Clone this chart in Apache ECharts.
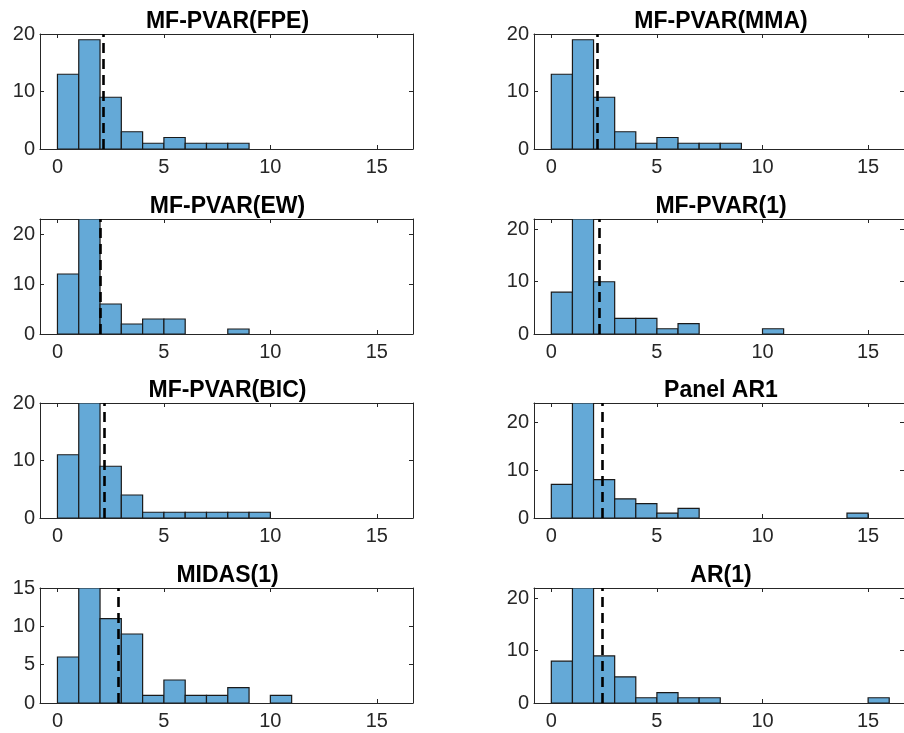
<!DOCTYPE html>
<html><head><meta charset="utf-8">
<script src="https://cdn.jsdelivr.net/npm/echarts@6/dist/echarts.min.js"></script>
<style>html,body{margin:0;padding:0;background:#fff}#c{width:904px;height:733px}</style>
</head><body><div id="c"></div>
<script>
const titles = ['MF-PVAR(FPE)', 'MF-PVAR(MMA)', 'MF-PVAR(EW)', 'MF-PVAR(1)', 'MF-PVAR(BIC)', 'Panel AR1', 'MIDAS(1)', 'AR(1)'];
const binEdges = [0, 1, 2, 3, 4, 5, 6, 7, 8, 9, 10, 11, 12, 13, 14, 15, 16];
const countsFPE = [13, 19, 9, 3, 1, 2, 1, 1, 1];
const countsMMA = [13, 19, 9, 3, 1, 2, 1, 1, 1];
const countsEW = [12, 23, 6, 2, 3, 3, 0, 0, 1];
const countsPVAR1 = [8, 22, 10, 3, 3, 1, 2, 0, 0, 0, 1];
const countsBIC = [11, 20, 9, 4, 1, 1, 1, 1, 1, 1];
const countsPanelAR1 = [7, 24, 8, 4, 3, 1, 2, 0, 0, 0, 0, 0, 0, 0, 1];
const countsMIDAS1 = [6, 15, 11, 9, 1, 3, 1, 1, 2, 0, 1];
const countsAR1 = [8, 22, 9, 5, 1, 2, 1, 1, 0, 0, 0, 0, 0, 0, 0, 1];
const meanLines = [2.15, 2.17, 2.0, 2.25, 2.22, 2.41, 2.86, 2.42];
const yMaxes = [20, 20, 23, 22, 20, 24, 15, 22];
const yTickLabels = [[0, 10, 20], [0, 10, 20], [0, 10, 20], [0, 10, 20], [0, 10, 20], [0, 10, 20], [0, 5, 10, 15], [0, 10, 20]];
const xTickLabels = [0, 5, 10, 15];
const xRange = [-0.82, 16.7];

const allCounts = [countsFPE, countsMMA, countsEW, countsPVAR1, countsBIC, countsPanelAR1, countsMIDAS1, countsAR1];

const colLeft = [40, 534];
const colWidth = [373, 372];
const rowTop = [34, 219, 403, 588];
const plotH = 115;
const axisColor = '#262626';
const barFill = '#64a9d7';
const fontFam = '"Liberation Sans", Arial, sans-serif';

const grid = [], xAxis = [], yAxis = [], series = [], title = [];
for (let i = 0; i < 8; i++) {
  const col = i % 2, row = Math.floor(i / 2);
  grid.push({left: colLeft[col], top: rowTop[row], width: colWidth[col], height: plotH, containLabel: false});
  title.push({
    text: titles[i], left: colLeft[col] + colWidth[col] / 2 + 1, top: rowTop[row] - 24, textAlign: 'center', padding: 0,
    textStyle: {fontFamily: fontFam, fontWeight: 'bold', fontSize: 23, color: '#000'}
  });
  const axBase = {
    gridIndex: i, type: 'value', splitLine: {show: false},
    axisLine: {show: true, onZero: false, lineStyle: {color: axisColor, width: 1}},
    axisTick: {show: true, inside: true, length: 4, lineStyle: {color: axisColor}}
  };
  xAxis.push(Object.assign({}, axBase, {
    position: 'bottom', min: xRange[0], max: xRange[1],
    axisTick: Object.assign({}, axBase.axisTick, {customValues: xTickLabels}),
    axisLabel: {customValues: xTickLabels, margin: 8, fontFamily: fontFam, fontSize: 20, color: axisColor}
  }));
  xAxis.push(Object.assign({}, axBase, {
    position: 'top', min: xRange[0], max: xRange[1],
    axisTick: Object.assign({}, axBase.axisTick, {customValues: xTickLabels}),
    axisLabel: {show: false}
  }));
  yAxis.push(Object.assign({}, axBase, {
    position: 'left', min: 0, max: yMaxes[i],
    axisTick: Object.assign({}, axBase.axisTick, {customValues: yTickLabels[i]}),
    axisLabel: {customValues: yTickLabels[i], margin: 5, fontFamily: fontFam, fontSize: 20, color: axisColor}
  }));
  yAxis.push(Object.assign({}, axBase, {
    position: 'right', min: 0, max: yMaxes[i],
    axisTick: Object.assign({}, axBase.axisTick, {customValues: yTickLabels[i]}),
    axisLabel: {show: false}
  }));
  const data = allCounts[i].map((c, k) => [binEdges[k], binEdges[k + 1], c]);
  series.push({
    type: 'custom', xAxisIndex: 2 * i, yAxisIndex: 2 * i, data: data, silent: true,
    clip: true,
    renderItem: function (params, api) {
      const p0 = api.coord([api.value(0), api.value(2)]);
      const p1 = api.coord([api.value(1), 0]);
      if (api.value(2) <= 0) return null;
      return {
        type: 'rect',
        shape: {x: p0[0], y: p0[1], width: p1[0] - p0[0], height: p1[1] - p0[1]},
        style: {fill: barFill, stroke: '#1a1a1a', lineWidth: 1.2}
      };
    },
    markLine: {
      silent: true, symbol: 'none', animation: false,
      label: {show: false},
      lineStyle: {color: '#000', type: [10, 6], width: 2.6},
      data: [{xAxis: meanLines[i]}]
    }
  });
}

const chart = echarts.init(document.getElementById('c'), null, {renderer: 'canvas'});
chart.setOption({animation: false, backgroundColor: '#fff', title, grid, xAxis, yAxis, series});
</script></body></html>
